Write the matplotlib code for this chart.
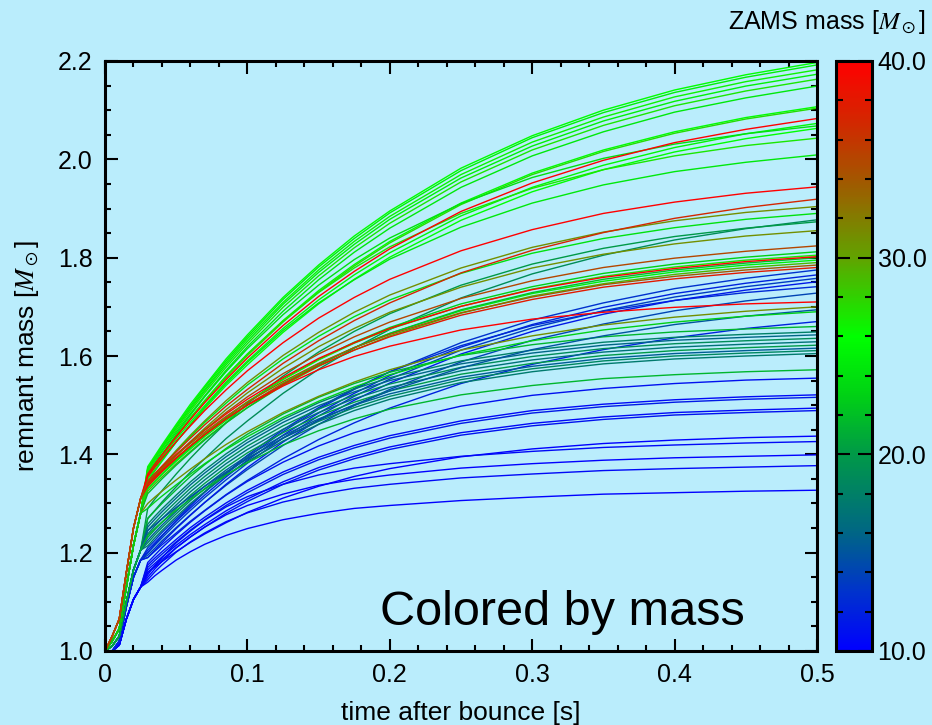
import numpy as np
import matplotlib
matplotlib.use("Agg")
import matplotlib.pyplot as plt
from matplotlib.colors import LinearSegmentedColormap, Normalize
from matplotlib.cm import ScalarMappable
from matplotlib.ticker import MultipleLocator

plt.rcParams['font.family'] = ['Liberation Sans', 'DejaVu Sans']
plt.rcParams['mathtext.fontset'] = 'stix'

# ---------------- data ----------------
t_early = [0.0, 0.005, 0.01, 0.015, 0.02, 0.025]
t_late = [0.03, 0.035, 0.04, 0.05, 0.06, 0.07, 0.085, 0.1, 0.125, 0.15,
          0.175, 0.2, 0.25, 0.3, 0.35, 0.4, 0.45, 0.5]

early_red = [1.0, 1.03, 1.065, 1.16, 1.25, 1.31]
early_green = [1.0, 1.02, 1.045, 1.13, 1.215, 1.28]
early_teal = [1.0, 1.01, 1.03, 1.10, 1.165, 1.205]
early_blue_hi = [1.0, 1.0, 1.02, 1.09, 1.15, 1.185]
early_blue_lo = [1.0, 1.0, 1.012, 1.065, 1.105, 1.13]

red_masses = [40, 40, 40, 40, 37, 35, 38, 34]
red_curves = [
    [1.360, 1.380, 1.399, 1.436, 1.471, 1.505, 1.552, 1.596, 1.662, 1.721, 1.772, 1.818, 1.894, 1.952, 1.998, 2.034, 2.061, 2.083],
    [1.355, 1.374, 1.392, 1.426, 1.458, 1.489, 1.531, 1.570, 1.627, 1.677, 1.719, 1.756, 1.814, 1.857, 1.890, 1.913, 1.931, 1.944],
    [1.345, 1.360, 1.373, 1.400, 1.425, 1.449, 1.482, 1.512, 1.556, 1.595, 1.627, 1.656, 1.701, 1.735, 1.760, 1.778, 1.792, 1.802],
    [1.335, 1.350, 1.365, 1.392, 1.417, 1.440, 1.472, 1.500, 1.539, 1.572, 1.599, 1.620, 1.653, 1.675, 1.689, 1.699, 1.706, 1.710],
    [1.345, 1.361, 1.376, 1.405, 1.433, 1.460, 1.498, 1.532, 1.585, 1.631, 1.672, 1.708, 1.769, 1.815, 1.851, 1.880, 1.902, 1.919],
    [1.340, 1.356, 1.370, 1.398, 1.425, 1.450, 1.485, 1.517, 1.564, 1.604, 1.639, 1.669, 1.717, 1.753, 1.780, 1.799, 1.813, 1.824],
    [1.340, 1.354, 1.367, 1.393, 1.417, 1.440, 1.472, 1.501, 1.543, 1.580, 1.612, 1.639, 1.683, 1.715, 1.740, 1.757, 1.770, 1.780],
    [1.345, 1.359, 1.372, 1.398, 1.422, 1.445, 1.477, 1.506, 1.548, 1.585, 1.617, 1.644, 1.688, 1.720, 1.745, 1.762, 1.775, 1.785],
]

green_masses = [26, 25, 26.5, 25, 27, 24.5, 26, 27.5, 25.5, 24, 26, 27, 24.5,
                31, 24, 31, 23, 27, 25, 29, 22, 31, 23]
green_curves = [
    [1.375, 1.397, 1.419, 1.461, 1.502, 1.539, 1.594, 1.643, 1.719, 1.785, 1.844, 1.895, 1.982, 2.048, 2.100, 2.141, 2.172, 2.197],
    [1.372, 1.394, 1.416, 1.458, 1.498, 1.536, 1.590, 1.639, 1.715, 1.781, 1.839, 1.891, 1.977, 2.044, 2.095, 2.136, 2.167, 2.192],
    [1.370, 1.392, 1.414, 1.455, 1.495, 1.532, 1.586, 1.635, 1.709, 1.775, 1.833, 1.884, 1.969, 2.035, 2.086, 2.127, 2.158, 2.182],
    [1.368, 1.390, 1.412, 1.453, 1.492, 1.529, 1.582, 1.630, 1.705, 1.770, 1.827, 1.878, 1.962, 2.027, 2.078, 2.118, 2.149, 2.173],
    [1.365, 1.387, 1.408, 1.449, 1.488, 1.525, 1.577, 1.625, 1.699, 1.763, 1.820, 1.870, 1.954, 2.019, 2.069, 2.109, 2.139, 2.163],
    [1.362, 1.383, 1.405, 1.445, 1.483, 1.519, 1.571, 1.619, 1.691, 1.755, 1.811, 1.860, 1.943, 2.007, 2.056, 2.096, 2.125, 2.149],
    [1.360, 1.380, 1.400, 1.438, 1.475, 1.509, 1.559, 1.604, 1.672, 1.733, 1.786, 1.833, 1.911, 1.972, 2.019, 2.056, 2.085, 2.107],
    [1.358, 1.378, 1.398, 1.436, 1.473, 1.507, 1.556, 1.601, 1.669, 1.730, 1.783, 1.830, 1.908, 1.969, 2.016, 2.053, 2.082, 2.104],
    [1.356, 1.375, 1.395, 1.431, 1.466, 1.499, 1.547, 1.590, 1.656, 1.714, 1.765, 1.810, 1.885, 1.943, 1.988, 2.024, 2.052, 2.073],
    [1.355, 1.378, 1.399, 1.441, 1.480, 1.517, 1.568, 1.615, 1.684, 1.744, 1.796, 1.840, 1.910, 1.963, 2.002, 2.031, 2.052, 2.068],
    [1.350, 1.369, 1.389, 1.425, 1.460, 1.493, 1.540, 1.582, 1.648, 1.706, 1.756, 1.801, 1.876, 1.934, 1.979, 2.015, 2.042, 2.063],
    [1.352, 1.374, 1.395, 1.435, 1.473, 1.509, 1.559, 1.604, 1.671, 1.729, 1.779, 1.822, 1.890, 1.941, 1.979, 2.007, 2.028, 2.043],
    [1.345, 1.366, 1.386, 1.425, 1.461, 1.496, 1.544, 1.587, 1.652, 1.708, 1.755, 1.797, 1.862, 1.911, 1.948, 1.975, 1.994, 2.009],
    [1.340, 1.358, 1.375, 1.408, 1.439, 1.468, 1.509, 1.546, 1.601, 1.648, 1.689, 1.724, 1.779, 1.821, 1.852, 1.875, 1.892, 1.904],
    [1.340, 1.358, 1.374, 1.406, 1.436, 1.465, 1.504, 1.541, 1.594, 1.640, 1.680, 1.714, 1.768, 1.809, 1.839, 1.861, 1.878, 1.890],
    [1.335, 1.352, 1.367, 1.397, 1.426, 1.453, 1.491, 1.525, 1.575, 1.619, 1.656, 1.689, 1.740, 1.779, 1.807, 1.828, 1.844, 1.855],
    [1.330, 1.345, 1.360, 1.388, 1.414, 1.439, 1.474, 1.506, 1.553, 1.593, 1.628, 1.658, 1.706, 1.741, 1.768, 1.787, 1.801, 1.812],
    [1.335, 1.350, 1.364, 1.391, 1.417, 1.442, 1.476, 1.507, 1.552, 1.592, 1.626, 1.655, 1.701, 1.736, 1.762, 1.781, 1.795, 1.805],
    [1.330, 1.345, 1.359, 1.386, 1.411, 1.436, 1.469, 1.500, 1.545, 1.584, 1.617, 1.646, 1.692, 1.727, 1.752, 1.771, 1.785, 1.795],
    [1.325, 1.340, 1.354, 1.381, 1.406, 1.431, 1.464, 1.495, 1.540, 1.579, 1.612, 1.641, 1.687, 1.722, 1.747, 1.766, 1.780, 1.790],
    [1.320, 1.335, 1.350, 1.378, 1.404, 1.429, 1.464, 1.495, 1.542, 1.582, 1.617, 1.646, 1.694, 1.729, 1.756, 1.775, 1.789, 1.800],
    [1.300, 1.313, 1.325, 1.348, 1.370, 1.391, 1.420, 1.446, 1.485, 1.518, 1.547, 1.572, 1.612, 1.641, 1.663, 1.679, 1.691, 1.700],
    [1.290, 1.303, 1.315, 1.338, 1.360, 1.381, 1.410, 1.436, 1.475, 1.508, 1.537, 1.562, 1.602, 1.631, 1.653, 1.669, 1.681, 1.690],
]

teal_masses = [19, 20, 21.5, 18, 16, 19, 17, 20, 15.5, 18.5, 17.5, 15, 21.5]
teal_curves = [
    [1.270, 1.286, 1.303, 1.334, 1.364, 1.391, 1.432, 1.468, 1.524, 1.573, 1.616, 1.654, 1.718, 1.767, 1.805, 1.836, 1.859, 1.877],
    [1.290, 1.309, 1.326, 1.360, 1.392, 1.422, 1.464, 1.503, 1.559, 1.608, 1.650, 1.686, 1.744, 1.787, 1.819, 1.843, 1.860, 1.873],
    [1.269, 1.285, 1.300, 1.328, 1.355, 1.379, 1.412, 1.441, 1.482, 1.516, 1.544, 1.567, 1.601, 1.623, 1.639, 1.649, 1.655, 1.660],
    [1.258, 1.274, 1.289, 1.317, 1.344, 1.368, 1.401, 1.430, 1.471, 1.505, 1.533, 1.556, 1.590, 1.612, 1.628, 1.638, 1.644, 1.649],
    [1.252, 1.268, 1.283, 1.311, 1.338, 1.362, 1.395, 1.424, 1.465, 1.499, 1.527, 1.550, 1.584, 1.606, 1.622, 1.632, 1.638, 1.643],
    [1.245, 1.261, 1.276, 1.304, 1.331, 1.355, 1.388, 1.417, 1.458, 1.492, 1.520, 1.543, 1.577, 1.599, 1.615, 1.625, 1.631, 1.636],
    [1.238, 1.254, 1.269, 1.297, 1.324, 1.348, 1.381, 1.410, 1.451, 1.485, 1.513, 1.536, 1.570, 1.592, 1.608, 1.618, 1.624, 1.629],
    [1.231, 1.247, 1.262, 1.290, 1.317, 1.341, 1.374, 1.403, 1.444, 1.478, 1.506, 1.529, 1.563, 1.585, 1.601, 1.611, 1.617, 1.622],
    [1.225, 1.241, 1.256, 1.284, 1.311, 1.335, 1.368, 1.397, 1.438, 1.472, 1.500, 1.523, 1.557, 1.579, 1.595, 1.605, 1.611, 1.616],
    [1.220, 1.236, 1.251, 1.279, 1.306, 1.330, 1.363, 1.392, 1.433, 1.467, 1.495, 1.518, 1.552, 1.574, 1.590, 1.600, 1.606, 1.611],
    [1.214, 1.230, 1.245, 1.273, 1.300, 1.324, 1.357, 1.386, 1.427, 1.461, 1.489, 1.512, 1.546, 1.568, 1.584, 1.594, 1.600, 1.605],
    [1.245, 1.257, 1.269, 1.292, 1.314, 1.335, 1.364, 1.391, 1.433, 1.469, 1.501, 1.529, 1.576, 1.613, 1.641, 1.664, 1.681, 1.694],
    [1.235, 1.249, 1.262, 1.286, 1.309, 1.329, 1.358, 1.383, 1.419, 1.448, 1.472, 1.492, 1.521, 1.540, 1.554, 1.562, 1.568, 1.572],
]

blue_hi_masses = [13, 12, 13.5, 12.5, 14, 11.5, 12]
blue_hi_curves = [
    [1.210, 1.225, 1.241, 1.269, 1.297, 1.323, 1.360, 1.394, 1.446, 1.492, 1.532, 1.568, 1.627, 1.673, 1.708, 1.737, 1.758, 1.775],
    [1.205, 1.220, 1.235, 1.264, 1.291, 1.317, 1.354, 1.388, 1.439, 1.484, 1.524, 1.560, 1.618, 1.664, 1.699, 1.727, 1.748, 1.765],
    [1.200, 1.215, 1.230, 1.259, 1.286, 1.312, 1.348, 1.382, 1.433, 1.478, 1.518, 1.553, 1.612, 1.657, 1.692, 1.720, 1.741, 1.758],
    [1.200, 1.217, 1.234, 1.265, 1.295, 1.323, 1.362, 1.398, 1.450, 1.495, 1.534, 1.568, 1.621, 1.662, 1.691, 1.713, 1.729, 1.741],
    [1.195, 1.209, 1.224, 1.251, 1.277, 1.302, 1.337, 1.369, 1.418, 1.461, 1.499, 1.532, 1.588, 1.632, 1.665, 1.692, 1.712, 1.728],
    [1.190, 1.205, 1.220, 1.249, 1.276, 1.302, 1.339, 1.373, 1.425, 1.470, 1.510, 1.545, 1.604, 1.650, 1.685, 1.713, 1.734, 1.751],
    [1.190, 1.203, 1.216, 1.240, 1.264, 1.286, 1.318, 1.347, 1.391, 1.430, 1.464, 1.494, 1.544, 1.583, 1.613, 1.637, 1.656, 1.670],
]

blue_lo_masses = [11, 10.5, 11.5, 10.5, 11, 10, 10.5, 10, 10.5, 10]
blue_lo_curves = [
    [1.180, 1.195, 1.210, 1.237, 1.262, 1.285, 1.317, 1.345, 1.384, 1.417, 1.444, 1.465, 1.498, 1.520, 1.534, 1.544, 1.551, 1.555],
    [1.175, 1.189, 1.202, 1.227, 1.251, 1.272, 1.301, 1.327, 1.364, 1.394, 1.418, 1.438, 1.468, 1.489, 1.502, 1.511, 1.517, 1.521],
    [1.170, 1.184, 1.197, 1.222, 1.246, 1.267, 1.296, 1.322, 1.359, 1.389, 1.413, 1.433, 1.463, 1.484, 1.497, 1.506, 1.512, 1.516],
    [1.165, 1.178, 1.191, 1.215, 1.237, 1.257, 1.285, 1.309, 1.344, 1.373, 1.396, 1.415, 1.444, 1.463, 1.476, 1.485, 1.490, 1.494],
    [1.160, 1.173, 1.186, 1.210, 1.232, 1.252, 1.280, 1.304, 1.339, 1.368, 1.391, 1.410, 1.439, 1.458, 1.471, 1.480, 1.485, 1.489],
    [1.160, 1.171, 1.182, 1.202, 1.221, 1.238, 1.261, 1.282, 1.311, 1.335, 1.355, 1.371, 1.395, 1.411, 1.422, 1.429, 1.434, 1.437],
    [1.155, 1.174, 1.190, 1.220, 1.244, 1.266, 1.293, 1.314, 1.339, 1.358, 1.372, 1.381, 1.396, 1.406, 1.414, 1.419, 1.423, 1.426],
    [1.150, 1.167, 1.182, 1.210, 1.232, 1.252, 1.277, 1.296, 1.319, 1.337, 1.349, 1.358, 1.372, 1.381, 1.388, 1.393, 1.396, 1.399],
    [1.145, 1.161, 1.175, 1.201, 1.222, 1.240, 1.263, 1.281, 1.303, 1.319, 1.331, 1.339, 1.352, 1.360, 1.367, 1.371, 1.374, 1.377],
    [1.140, 1.153, 1.164, 1.185, 1.202, 1.217, 1.235, 1.249, 1.267, 1.280, 1.290, 1.296, 1.306, 1.313, 1.319, 1.322, 1.325, 1.327],
]

xticks = [0.0, 0.1, 0.2, 0.3, 0.4, 0.5]
xtick_labels = ["0", "0.1", "0.2", "0.3", "0.4", "0.5"]
yticks = [1.0, 1.2, 1.4, 1.6, 1.8, 2.0, 2.2]
ytick_labels = ["1.0", "1.2", "1.4", "1.6", "1.8", "2.0", "2.2"]
cbar_ticks = [10, 20, 30, 40]
cbar_labels = ["10.0", "20.0", "30.0", "40.0"]

# ---------------- style ----------------
bg = '#baedfc'
cmap = LinearSegmentedColormap.from_list('zams', [
    (0.0, (0.0, 0.0, 1.0)),
    (0.1, (0.0, 0.2, 0.8)),
    (0.2, (0.0, 0.4, 0.52)),
    (0.333, (0.0, 0.6, 0.28)),
    (0.433, (0.0, 0.82, 0.08)),
    (0.533, (0.0, 1.0, 0.0)),
    (0.667, (0.38, 0.64, 0.0)),
    (0.8, (0.64, 0.34, 0.0)),
    (0.9, (0.83, 0.15, 0.0)),
    (1.0, (1.0, 0.0, 0.0)),
])
norm = Normalize(vmin=10, vmax=40)

fig = plt.figure(figsize=(9.32, 7.25), dpi=100, facecolor=bg)
ax = fig.add_axes([105/932, 1 - 651/725, 712/932, 590/725])
ax.set_facecolor(bg)

t_all = t_early + t_late
groups = [
    (early_blue_lo, blue_lo_masses, blue_lo_curves),
    (early_blue_hi, blue_hi_masses, blue_hi_curves),
    (early_teal, teal_masses, teal_curves),
    (early_green, green_masses, green_curves),
    (early_red, red_masses, red_curves),
]
for early, masses, curves in groups:
    for mass, row in zip(masses, curves):
        ax.plot(t_all, early + row, color=cmap(norm(mass)), lw=1.0)

ax.set_xlim(0, 0.5)
ax.set_ylim(1.0, 2.2)
ax.set_xticks(xticks)
ax.set_xticklabels(xtick_labels)
ax.set_yticks(yticks)
ax.set_yticklabels(ytick_labels)
ax.xaxis.set_minor_locator(MultipleLocator(0.02))
ax.yaxis.set_minor_locator(MultipleLocator(0.05))
ax.tick_params(which='both', direction='in', top=True, right=True, width=1.5,
               labelsize=18)
ax.tick_params(which='major', length=9)
ax.tick_params(which='minor', length=4.5)
ax.tick_params(axis='x', pad=9)
ax.tick_params(axis='y', pad=9)
for s in ax.spines.values():
    s.set_linewidth(2.2)

ax.set_xlabel('time after bounce [s]', fontsize=19, labelpad=10)
ax.set_ylabel(r'remnant mass [$M_\odot$]', fontsize=19, labelpad=12)
ax.text(0.6426, 0.044, 'Colored by mass', transform=ax.transAxes,
        ha='center', va='baseline', fontsize=35)

cax = fig.add_axes([836/932, 1 - 651/725, 36/932, 590/725])
cb = fig.colorbar(ScalarMappable(norm=norm, cmap=cmap), cax=cax)
cb.set_ticks(cbar_ticks)
cb.set_ticklabels(cbar_labels)
cax.yaxis.set_minor_locator(MultipleLocator(2))
cax.tick_params(which='both', direction='in', left=True, right=True,
                width=1.5, labelsize=18, pad=4)
cax.tick_params(which='major', length=10)
cax.tick_params(which='minor', length=5)
cb.outline.set_linewidth(2.2)

fig.text(925/932, 1 - 22/725, r'ZAMS mass [$M_\odot$]', ha='right',
         va='center', fontsize=18)

fig.savefig('out.png', dpi=100, facecolor=bg)
